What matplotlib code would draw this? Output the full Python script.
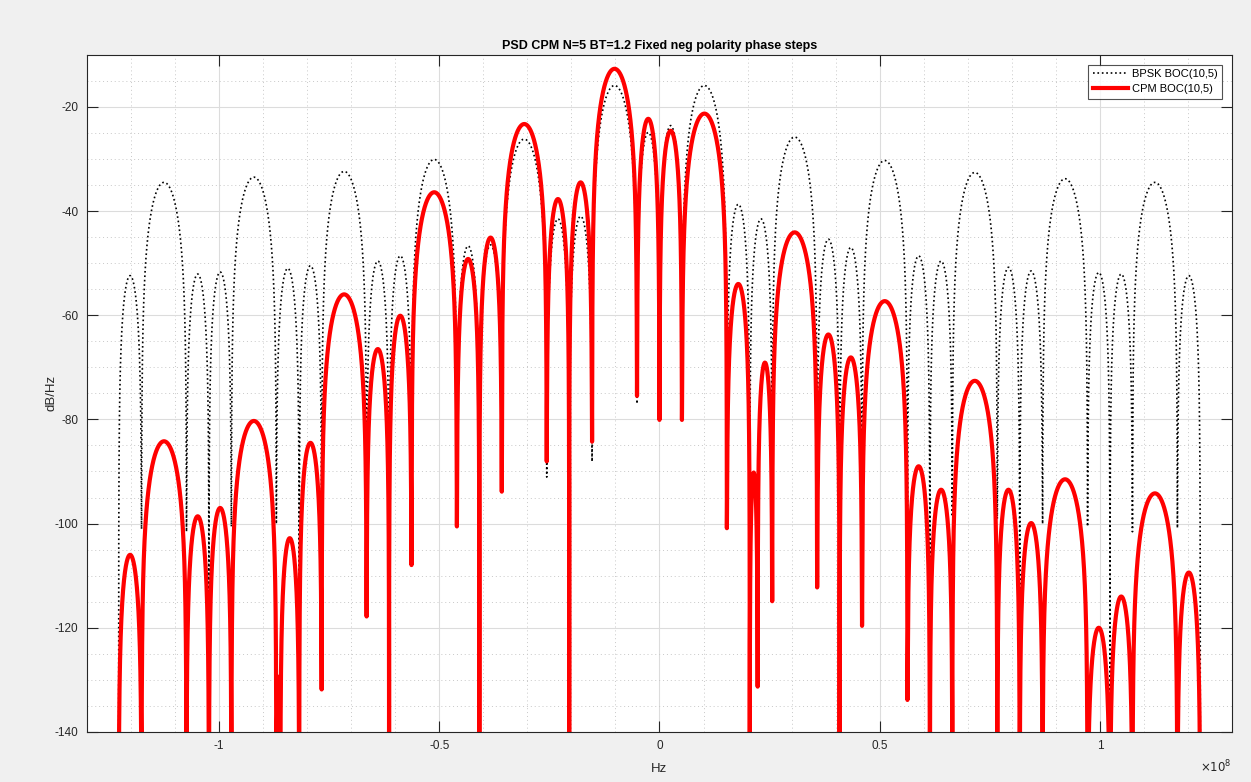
import numpy as np
import matplotlib
matplotlib.use("Agg")
import matplotlib.pyplot as plt
from matplotlib.ticker import MultipleLocator, FuncFormatter

plt.rcParams['font.family'] = ['Liberation Sans', 'DejaVu Sans']
plt.rcParams['axes.unicode_minus'] = False

# lobe edges (MHz), level at each edge (dB/Hz, -200 = very deep) and lobe peaks (dB/Hz)
bpsk_nulls_mhz = [-122.8, -117.6, -107.4, -102.3, -97.2, -87.0, -81.8, -76.7, -66.5, -61.4,
                  -56.3, -46.0, -40.9, -35.8, -25.6, -20.5, -15.3, -5.1, 0.0, 5.1,
                  15.3, 20.5, 25.6, 35.8, 40.9, 46.0, 56.3, 61.4, 66.5, 76.7,
                  81.8, 87.0, 97.2, 102.3, 107.4, 117.6, 122.8]
bpsk_null_db = [-200, -101, -101.5, -200, -100.5, -100, -200, -99, -99, -200,
                -99, -98, -200, -94, -91, -200, -88, -77, -79, -80.5,
                -88, -200, -91, -94, -200, -98, -99, -200, -98.6, -99,
                -200, -100, -100.5, -200, -101.5, -100.8, -200]
bpsk_peak_db = [-52.4, -34.5, -52.1, -51.7, -33.5, -51.0, -50.5, -32.4, -49.6, -48.6,
                -30.1, -46.7, -46.5, -26.2, -41.5, -41.0, -15.9, -24.9, -23.6, -15.9,
                -38.7, -41.5, -25.8, -45.4, -47.0, -30.3, -48.6, -49.6, -32.6, -50.8,
                -51.5, -33.8, -51.8, -52.1, -34.5, -52.4]

cpm_nulls_mhz = [-122.8, -117.6, -107.4, -102.3, -97.2, -87.0, -86.1, -81.8, -76.7, -66.5,
                 -61.4, -56.3, -46.0, -40.9, -35.8, -25.6, -20.5, -15.3, -5.1, 0.0,
                 5.1, 15.3, 20.5, 22.3, 25.6, 35.8, 40.9, 46.0, 56.3, 61.4,
                 66.5, 76.7, 81.8, 87.0, 97.2, 102.3, 107.4, 117.6, 122.8]
cpm_null_db = [-200, -200, -200, -200, -200, -200, -200, -200, -131.8, -117.8,
               -200, -107.9, -100.5, -200, -93.8, -88.0, -200, -84.2, -75.5, -80.1,
               -80.1, -100.8, -200, -131.2, -114.9, -112.2, -200, -119.6, -133.8, -200,
               -200, -200, -200, -200, -200, -200, -200, -200, -200]
cpm_peak_db = [-106.0, -84.2, -98.6, -97.0, -80.3, -129.4, -102.8, -84.5, -56.0, -66.5,
               -60.1, -36.4, -49.2, -45.1, -23.3, -37.7, -34.5, -12.7, -22.3, -24.6,
               -21.3, -54.0, -90.2, -69.1, -44.1, -63.7, -68.1, -57.3, -89.0, -93.5,
               -72.6, -93.5, -99.9, -91.5, -120.0, -114.0, -94.2, -109.4]


def lobes(nulls_mhz, null_db, peak_db, n=700, sharp=1.4):
    # build the arch of each lobe between two nulls
    fs, ps = [], []
    t = np.linspace(0, 1, n)
    u = (1 - np.cos(np.pi * t)) / 2
    for i, pk in enumerate(peak_db):
        a, b = nulls_mhz[i], nulls_mhz[i + 1]
        fl = null_db[i] + (null_db[i + 1] - null_db[i]) * u
        p = 10 ** (pk / 10) * np.abs(np.sin(np.pi * u)) ** (2 * sharp) + 10 ** (fl / 10)
        fs.append((a + (b - a) * u) * 1e6)
        ps.append(10 * np.log10(p))
    return np.concatenate(fs), np.concatenate(ps)


f_bpsk, p_bpsk = lobes(bpsk_nulls_mhz, bpsk_null_db, bpsk_peak_db)
f_cpm, p_cpm = lobes(cpm_nulls_mhz, cpm_null_db, cpm_peak_db)

fig = plt.figure(figsize=(12.51, 7.82), dpi=100, facecolor='#f0f0f0')
ax = fig.add_axes([0.0695, 0.064, 0.9153, 0.866])
ax.set_facecolor('white')

ax.plot(f_bpsk, p_bpsk, color='black', linestyle=':', linewidth=1.2, label='BPSK BOC(10,5)')
ax.plot(f_cpm, p_cpm, color='red', linewidth=3.0, label='CPM BOC(10,5)')

ax.set_xlim(-1.3e8, 1.3e8)
ax.set_ylim(-140, -10)
ax.xaxis.set_major_locator(MultipleLocator(0.5e8))
ax.xaxis.set_minor_locator(MultipleLocator(0.1e8))
ax.yaxis.set_major_locator(MultipleLocator(20))
ax.yaxis.set_minor_locator(MultipleLocator(5))
ax.xaxis.set_major_formatter(FuncFormatter(lambda v, p: '%g' % (v / 1e8)))

dark = '#262626'
ax.grid(True, which='major', color='#dcdcdc', linewidth=0.8, linestyle='-')
ax.grid(True, which='minor', color='#c8c8c8', linewidth=0.7, linestyle=(0, (1, 3)))
ax.set_axisbelow(True)
ax.tick_params(which='major', direction='in', length=8, width=0.8, top=True, right=True,
               colors=dark, labelsize=8.5, pad=6)
ax.tick_params(which='minor', length=0)
for s in ax.spines.values():
    s.set_color(dark)
    s.set_linewidth(0.8)

ax.set_title('PSD CPM N=5 BT=1.2 Fixed neg polarity phase steps', fontsize=9,
             fontweight='bold', color='black', pad=4)
ax.set_xlabel('Hz', fontsize=9.5, color=dark, labelpad=8)
ax.set_ylabel('dB/Hz', fontsize=9.5, color=dark, labelpad=-2)
ax.text(1.0, -0.04, r'$\times10^{8}$', transform=ax.transAxes, ha='right', va='top',
        fontsize=8.5, color=dark)

leg = ax.legend(loc='upper right', fontsize=8, frameon=True, fancybox=False,
                borderaxespad=0.9, handlelength=3.2, handletextpad=0.3, borderpad=0.4,
                labelspacing=0.45)
leg.get_frame().set_edgecolor(dark)
leg.get_frame().set_linewidth(0.8)

fig.savefig('out.png', dpi=100, facecolor=fig.get_facecolor())
